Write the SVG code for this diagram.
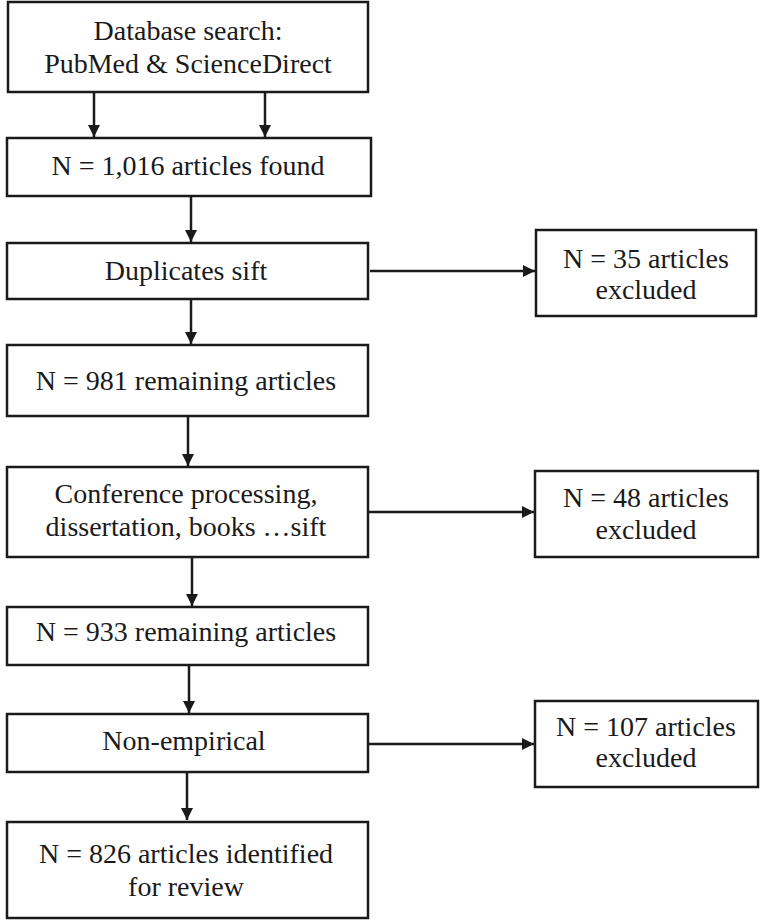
<svg xmlns="http://www.w3.org/2000/svg" width="762" height="921" viewBox="0 0 762 921">
<style>
.box{fill:#fff;stroke:#1a1a1a;stroke-width:2.5}
.t{font-family:"Liberation Serif","Times New Roman",serif;font-size:28px;fill:#1a1a1a;text-anchor:middle}
.c{stroke:#1a1a1a;stroke-width:2.5;fill:none;marker-end:url(#ah)}
</style>
<defs>
<marker id="ah" viewBox="0 0 12 12" refX="12" refY="6" markerWidth="12" markerHeight="12" markerUnits="userSpaceOnUse" orient="auto">
<path d="M0,0 L12,6 L0,12 Z" fill="#1a1a1a"/>
</marker>
</defs>
<rect width="762" height="921" fill="#fff"/>
<g id="connectors">
<line class="c" x1="94" y1="92" x2="94" y2="137"/>
<line class="c" x1="265" y1="92" x2="265" y2="137"/>
<line class="c" x1="191" y1="196" x2="191" y2="242"/>
<line class="c" x1="370" y1="271" x2="535" y2="271"/>
<line class="c" x1="191" y1="299" x2="191" y2="344"/>
<line class="c" x1="188" y1="416" x2="188" y2="466"/>
<line class="c" x1="368" y1="512" x2="534" y2="512"/>
<line class="c" x1="192" y1="557" x2="192" y2="606"/>
<line class="c" x1="189" y1="665" x2="189" y2="713"/>
<line class="c" x1="368" y1="744" x2="534" y2="744"/>
<line class="c" x1="187" y1="772" x2="187" y2="820"/>
</g>
<g id="n1"><rect class="box" x="8" y="2" width="360" height="90"/>
<text class="t" x="188" y="40">Database search:</text>
<text class="t" x="188" y="73">PubMed &amp; ScienceDirect</text></g>
<g id="n2"><rect class="box" x="7" y="138" width="364" height="58"/>
<text class="t" x="188" y="175">N = 1,016 articles found</text></g>
<g id="n3"><rect class="box" x="7" y="243" width="361" height="56"/>
<text class="t" x="186" y="280">Duplicates sift</text></g>
<g id="n4"><rect class="box" x="536" y="230" width="220" height="86"/>
<text class="t" x="646" y="268">N = 35 articles</text>
<text class="t" x="646" y="299">excluded</text></g>
<g id="n5"><rect class="box" x="7" y="345" width="361" height="71"/>
<text class="t" x="186" y="390">N = 981 remaining articles</text></g>
<g id="n6"><rect class="box" x="7" y="467" width="361" height="90"/>
<text class="t" x="186" y="503">Conference processing,</text>
<text class="t" x="186" y="536">dissertation, books …sift</text></g>
<g id="n7"><rect class="box" x="535" y="471" width="223" height="86"/>
<text class="t" x="646" y="507">N = 48 articles</text>
<text class="t" x="646" y="539">excluded</text></g>
<g id="n8"><rect class="box" x="7" y="607" width="361" height="58"/>
<text class="t" x="186" y="641">N = 933 remaining articles</text></g>
<g id="n9"><rect class="box" x="7" y="714" width="361" height="58"/>
<text class="t" x="184" y="750">Non-empirical</text></g>
<g id="n10"><rect class="box" x="535" y="701" width="223" height="86"/>
<text class="t" x="646" y="736">N = 107 articles</text>
<text class="t" x="646" y="767">excluded</text></g>
<g id="n11"><rect class="box" x="7" y="822" width="361" height="96"/>
<text class="t" x="186" y="863">N = 826 articles identified</text>
<text class="t" x="186" y="896">for review</text></g>
</svg>
